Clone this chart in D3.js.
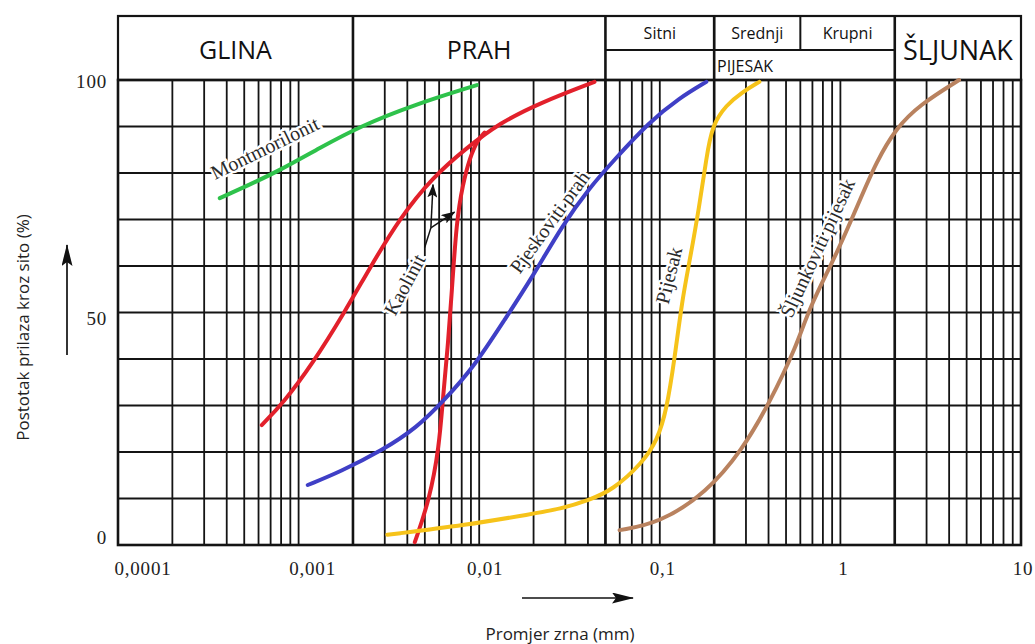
<!DOCTYPE html>
<html>
<head>
<meta charset="utf-8">
<script src="https://cdn.jsdelivr.net/npm/d3@7"></script>
<style>
  html, body { margin: 0; padding: 0; background: #fff; }
  svg { display: block; }
</style>
</head>
<body>
<svg id="chart" width="1035" height="644"></svg>
<script>
// ---------------- DATA ----------------
const xTickValues = [1e-4, 1e-3, 1e-2, 1e-1, 1, 10];
const xTickLabels = ["0,0001", "0,001", "0,01", "0,1", "1", "10"];
const yTickValues = [0, 50, 100];
const yTickLabels = ["0", "50", "100"];
const yGridValues = [10, 20, 30, 40, 50, 60, 70, 80, 90];
const zoneBounds = [0.002, 0.05, 0.2, 2];
const mainZones = [
  { name: "GLINA", from: 1e-4, to: 0.002 },
  { name: "PRAH", from: 0.002, to: 0.05 },
  { name: "ŠLJUNAK", from: 2, to: 10 }
];
const sandSubZones = [
  { name: "Sitni", from: 0.05, to: 0.2 },
  { name: "Srednji", from: 0.2, to: 0.6 },
  { name: "Krupni", from: 0.6, to: 2 }
];
const sandZone = { name: "PIJESAK", from: 0.05, to: 2 };

// grain size (mm), percent passing
const montmorilonit = [[3.66e-4, 74.6], [5.16e-4, 77.2], [7.9e-4, 80.6], [1.31e-3, 85.4], [2.18e-3, 90.0], [4.3e-3, 94.6], [9.7e-3, 98.9]];
const kaolinitA = [[6.25e-4, 25.8], [8.2e-4, 30.5], [1.2e-3, 39.1], [1.80e-3, 50.1], [2.48e-3, 59.6], [3.63e-3, 70.3], [5.53e-3, 79.1], [8.51e-3, 85.4], [0.013, 90.75], [0.0216, 95.05], [0.0435, 99.6]];
const kaolinitB = [[4.4e-3, 0.6], [5.3e-3, 9.7], [6.0e-3, 21], [6.3e-3, 31.8], [6.7e-3, 42.6], [7.0e-3, 52.7], [7.5e-3, 70], [8.1e-3, 77.4], [8.85e-3, 83.2], [9.8e-3, 87.1], [0.0107, 88.7]];
const pjeskovitiPrah = [[1.124e-3, 12.9], [1.69e-3, 15.7], [2.92e-3, 20.4], [4.51e-3, 25.2], [6.43e-3, 31.2], [9.43e-3, 38.5], [0.0138, 48.4], [0.0197, 57.6], [0.0289, 68.8], [0.0408, 76.8], [0.0547, 82.4], [0.0876, 91], [0.128, 96.1], [0.181, 99.6]];
const pijesak = [[3.1e-3, 2.2], [8.5e-3, 4.3], [0.0197, 6.7], [0.0279, 7.7], [0.0408, 9.7], [0.0547, 11.8], [0.080, 17.6], [0.097, 22.6], [0.109, 29], [0.1205, 39.8], [0.133, 52.7], [0.146, 60.9], [0.166, 73.1], [0.181, 83.2], [0.195, 90.3], [0.233, 94.6], [0.286, 97.4], [0.356, 99.6]];
const sljunkovitiPijesak = [[0.0599, 3.2], [0.0995, 4.7], [0.181, 11.2], [0.286, 20.4], [0.404, 30.5], [0.57, 42.6], [0.672, 51], [0.949, 62.4], [1.27, 73.8], [1.58, 82.4], [2.04, 89.7], [2.73, 94.6], [4.54, 100]];

const seriesData = [montmorilonit, kaolinitA, kaolinitB, pjeskovitiPrah, pijesak, sljunkovitiPijesak];
const seriesColors = ["#2ec24b", "#e2202b", "#e2202b", "#3f3fc6", "#f6c31a", "#b9825f"];

// curve labels: text, anchor (mm, %), rotation
const curveLabels = [
  { text: "Montmorilonit", d: 6.5e-4, p: 85.4, angle: -26 },
  { text: "Kaolinit", d: 3.86e-3, p: 56.0, angle: -62 },
  { text: "Pjeskoviti prah", d: 0.0245, p: 69.5, angle: -54 },
  { text: "Pijesak", d: 0.112, p: 58.0, angle: -76 },
  { text: "Šljunkoviti pijesak", d: 0.745, p: 63.9, angle: -65 }
];
// kaolinit pointer: stem start, fork, tips (mm, %)
const kaolinitStem = [[4.99e-3, 64], [5.4e-3, 68.2]];
const kaolinitTips = [[5.55e-3, 77.5], [7.3e-3, 71.6]];

// ---------------- CHART ----------------
const svg = d3.select("#chart");
const x = d3.scaleLog().domain([1e-4, 10]).range([118, 1021]);
const y = d3.scaleLinear().domain([0, 100]).range([545, 80]);
const headerTop = 16, headerMid = 50;

const grid = svg.append("g").attr("stroke", "#141414").attr("fill", "none");

// vertical log grid
const vLines = [];
for (let e = -4; e <= 0; e++) {
  for (let k = 1; k <= 9; k++) {
    const v = k * Math.pow(10, e);
    if (v > 1e-4 * 1.0001 && v < 10 * 0.9999) vLines.push(v);
  }
}
grid.selectAll("line.v").data(vLines).join("line")
  .attr("class", "v")
  .attr("x1", d => x(d)).attr("x2", d => x(d))
  .attr("y1", y(100)).attr("y2", y(0))
  .attr("stroke-width", 1.8);

grid.selectAll("line.h").data(yGridValues).join("line")
  .attr("class", "h")
  .attr("x1", x(1e-4)).attr("x2", x(10))
  .attr("y1", d => y(d)).attr("y2", d => y(d))
  .attr("stroke-width", 1.8);

// thick zone boundaries
grid.selectAll("line.zb").data(zoneBounds).join("line")
  .attr("class", "zb")
  .attr("x1", d => x(d)).attr("x2", d => x(d))
  .attr("y1", headerTop).attr("y2", y(0))
  .attr("stroke-width", 2.6);

// sub-boundaries inside header
grid.selectAll("line.sb").data([0.2, 0.6]).join("line")
  .attr("class", "sb")
  .attr("x1", d => x(d)).attr("x2", d => x(d))
  .attr("y1", headerTop).attr("y2", headerMid)
  .attr("stroke-width", 2);
grid.append("line")
  .attr("x1", x(0.05)).attr("x2", x(2))
  .attr("y1", headerMid).attr("y2", headerMid)
  .attr("stroke-width", 2);

// borders
grid.append("rect")
  .attr("x", x(1e-4)).attr("y", headerTop)
  .attr("width", x(10) - x(1e-4)).attr("height", y(100) - headerTop)
  .attr("stroke-width", 2.2);
grid.append("rect")
  .attr("x", x(1e-4)).attr("y", y(100))
  .attr("width", x(10) - x(1e-4)).attr("height", y(0) - y(100))
  .attr("stroke-width", 2.6);

// header labels
const hdr = svg.append("g").attr("font-family", "'Open Sans', 'Noto Sans', sans-serif").attr("fill", "#111");
hdr.selectAll("text.main").data(mainZones).join("text")
  .attr("class", "main")
  .attr("x", d => (x(d.from) + x(d.to)) / 2)
  .attr("y", (headerTop + y(100)) / 2 + 1)
  .attr("text-anchor", "middle").attr("dominant-baseline", "central")
  .attr("font-size", d => d.name === "ŠLJUNAK" ? 27 : 25)
  .text(d => d.name);
hdr.selectAll("text.sub").data(sandSubZones).join("text")
  .attr("class", "sub")
  .attr("x", d => (x(d.from) + x(d.to)) / 2)
  .attr("y", (headerTop + headerMid) / 2)
  .attr("text-anchor", "middle").attr("dominant-baseline", "central")
  .attr("font-size", 16)
  .text(d => d.name);
hdr.append("text")
  .attr("x", (x(sandZone.from) + x(sandZone.to)) / 2 - 5)
  .attr("y", (headerMid + y(100)) / 2 + 1)
  .attr("text-anchor", "middle").attr("dominant-baseline", "central")
  .attr("font-size", 16)
  .text(sandZone.name);

// curves
const line = d3.line()
  .x(d => x(d[0])).y(d => y(d[1]))
  .curve(d3.curveBasis);

// curve labels (with white halo to cut grid)
const lbl = svg.append("g")
  .attr("font-family", "'Liberation Serif', 'DejaVu Serif', serif")
  .attr("font-size", 20).attr("fill", "#2a2a2a");
lbl.selectAll("text").data(curveLabels).join("text")
  .attr("transform", d => `translate(${x(d.d)},${y(d.p)}) rotate(${d.angle})`)
  .attr("text-anchor", "middle").attr("dominant-baseline", "central")
  .attr("stroke", "#fff").attr("stroke-width", 5).attr("paint-order", "stroke")
  .attr("stroke-linejoin", "round")
  .text(d => d.text);

svg.append("g").selectAll("path").data(seriesData).join("path")
  .attr("d", d => line(d))
  .attr("fill", "none")
  .attr("stroke", (d, i) => seriesColors[i])
  .attr("stroke-width", 4)
  .attr("stroke-linecap", "round");

// arrow marker
const defs = svg.append("defs");
defs.append("marker").attr("id", "ah")
  .attr("viewBox", "0 0 22 11").attr("refX", 21).attr("refY", 5.5)
  .attr("markerUnits", "userSpaceOnUse")
  .attr("markerWidth", 22).attr("markerHeight", 11).attr("orient", "auto")
  .append("path").attr("d", "M0,0 L22,5.5 L0,11 L4,5.5 Z").attr("fill", "#111");
defs.append("marker").attr("id", "ahs")
  .attr("viewBox", "0 0 14 10").attr("refX", 13).attr("refY", 5)
  .attr("markerUnits", "userSpaceOnUse")
  .attr("markerWidth", 14).attr("markerHeight", 10).attr("orient", "auto")
  .append("path").attr("d", "M0,0 L14,5 L0,10 L3,5 Z").attr("fill", "#111");

// kaolinit pointer
const ptr = svg.append("g").attr("stroke", "#111").attr("stroke-width", 1.5).attr("fill", "none");
ptr.append("line")
  .attr("x1", x(kaolinitStem[0][0])).attr("y1", y(kaolinitStem[0][1]))
  .attr("x2", x(kaolinitStem[1][0])).attr("y2", y(kaolinitStem[1][1]));
ptr.selectAll("line.tip").data(kaolinitTips).join("line")
  .attr("class", "tip")
  .attr("x1", x(kaolinitStem[1][0])).attr("y1", y(kaolinitStem[1][1]))
  .attr("x2", d => x(d[0])).attr("y2", d => y(d[1]))
  .attr("marker-end", "url(#ahs)");

// tick labels
const tk = svg.append("g").attr("font-family", "'Liberation Serif', 'DejaVu Serif', serif")
  .attr("font-size", 19).attr("fill", "#222").attr("letter-spacing", 0.8);
const xLabelDx = [25, 14, 6, 3, 3, 2];
tk.selectAll("text.xt").data(xTickValues).join("text")
  .attr("class", "xt")
  .attr("x", (d, i) => x(d) + xLabelDx[i])
  .attr("y", 575)
  .attr("text-anchor", "middle")
  .text((d, i) => xTickLabels[i]);
const yLabelDy = [-8, 6, 1];
tk.selectAll("text.yt").data(yTickValues).join("text")
  .attr("class", "yt")
  .attr("x", 107)
  .attr("y", (d, i) => y(d) + yLabelDy[i])
  .attr("text-anchor", "end").attr("dominant-baseline", "central")
  .text((d, i) => yTickLabels[i]);

// axis titles & arrows
const ttl = svg.append("g").attr("font-family", "'Open Sans', 'Noto Sans', sans-serif")
  .attr("fill", "#222");
ttl.append("text")
  .attr("transform", `translate(22,${(y(0) + y(100)) / 2 + 15}) rotate(-90)`)
  .attr("text-anchor", "middle").attr("dominant-baseline", "central")
  .attr("font-size", 17)
  .text("Postotak prilaza kroz sito (%)");
ttl.append("text")
  .attr("x", 560).attr("y", 633)
  .attr("text-anchor", "middle").attr("dominant-baseline", "central")
  .attr("font-size", 17)
  .text("Promjer zrna (mm)");

svg.append("line")
  .attr("x1", 67).attr("y1", 355).attr("x2", 67).attr("y2", 245)
  .attr("stroke", "#111").attr("stroke-width", 1.7)
  .attr("marker-end", "url(#ah)");
svg.append("line")
  .attr("x1", 522).attr("y1", 598).attr("x2", 633).attr("y2", 598)
  .attr("stroke", "#111").attr("stroke-width", 1.7)
  .attr("marker-end", "url(#ah)");
</script>
</body>
</html>
